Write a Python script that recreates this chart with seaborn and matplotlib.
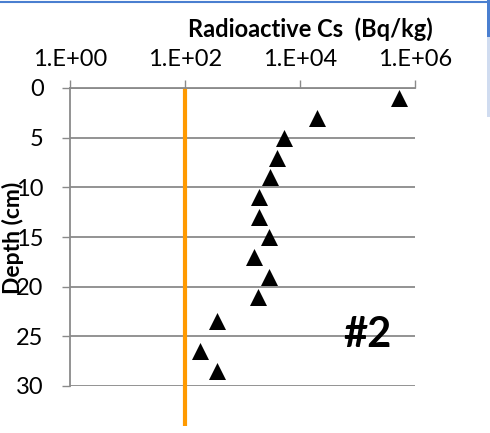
import numpy as np
import pandas as pd
import matplotlib
matplotlib.use("Agg")
import matplotlib.pyplot as plt
from matplotlib.patches import Rectangle
from matplotlib.lines import Line2D
import seaborn as sns

# Radioactive caesium profile in a soil core (sample #2)
depth_cm = [1, 3, 5, 7, 9, 11, 13, 15, 17, 19, 21, 23.5, 26.5, 28.5]
cs_bq_kg = [530000, 20000, 5300, 4000, 3000, 1950, 1950, 2900, 1600, 2900, 1850, 365, 182, 365]

# Reference level drawn as a vertical line
ref_level = 100
ref_depth = [0, 34]

x_ticks = [1, 1e2, 1e4, 1e6]
x_tick_labels = ["1.E+00", "1.E+02", "1.E+04", "1.E+06"]
y_ticks = [0, 5, 10, 15, 20, 25, 30]

df = pd.DataFrame({"depth": depth_cm, "cs": cs_bq_kg})

sns.set_theme(style="white")
plt.rcParams["font.family"] = ["Lato", "DejaVu Sans"]

W, H = 490, 433
fig = plt.figure(figsize=(W / 100, H / 100), dpi=100)
fig.patch.set_facecolor("white")

# plot area in pixel coordinates
x0, x1 = 70, 415
y0, y1 = 88, 386
ax = fig.add_axes([x0 / W, 1 - y1 / H, (x1 - x0) / W, (y1 - y0) / H])
ax.set_facecolor("white")

grid_c = "#8a8a8a"
ax.set_xscale("log")
ax.set_xlim(1, 1e6)
ax.set_ylim(30, 0)

for yv in y_ticks:
    ax.axhline(yv, color=grid_c, lw=1.3, zorder=1)

ax.plot([ref_level, ref_level], ref_depth, color="#ff9a00", lw=3.0,
        solid_capstyle="butt", clip_on=False, zorder=2)

sns.scatterplot(data=df, x="cs", y="depth", marker="^", s=150, color="black",
                linewidth=0, ax=ax, zorder=3, clip_on=False)

ax.set_xlabel("")
ax.set_ylabel("")
ax.xaxis.tick_top()
ax.set_xticks(x_ticks)
ax.set_xticklabels(x_tick_labels)
ax.xaxis.set_minor_locator(matplotlib.ticker.NullLocator())
ax.set_yticks(y_ticks)
ax.set_yticklabels([str(v) for v in y_ticks])

ax.tick_params(axis="x", which="major", direction="out", length=6, width=1,
               color=grid_c, labelsize=17, pad=7, top=True, bottom=False,
               labeltop=True, labelbottom=False, labelcolor="black")
ax.tick_params(axis="y", which="major", direction="out", length=6, width=1,
               color=grid_c, labelsize=17, pad=13, left=True,
               labelcolor="black")

for side in ["right", "bottom"]:
    ax.spines[side].set_visible(False)
for side in ["left", "top"]:
    ax.spines[side].set_visible(True)
    ax.spines[side].set_color(grid_c)
    ax.spines[side].set_linewidth(1.3)


def px(x, y):
    return x / W, 1 - y / H


fig.text(*px(310, 29), "Radioactive Cs  (Bq/kg)", ha="center", va="center",
         fontsize=17, fontweight="bold", color="black")
fig.text(*px(13, 238), "Depth (cm)", ha="center", va="center", rotation=90,
         fontsize=16.5, fontweight="bold", color="black")
fig.text(*px(367, 335), "#2", ha="center", va="center",
         fontsize=30, fontweight="bold", color="black")

# window frame fragments along the top and right edges
fig.add_artist(Line2D([0, 487 / W], [1 - 1.5 / H, 1 - 1.5 / H],
                      color="#4a7fd0", lw=1.5, transform=fig.transFigure))
fig.add_artist(Rectangle(px(487, 37), 3 / W, 37 / H, color="#4a7fd0",
                         transform=fig.transFigure, lw=0))
fig.add_artist(Rectangle(px(487, 117), 3 / W, 80 / H, color="#d0dcf0",
                         transform=fig.transFigure, lw=0))

fig.savefig("out.png", dpi=100, facecolor="white")
